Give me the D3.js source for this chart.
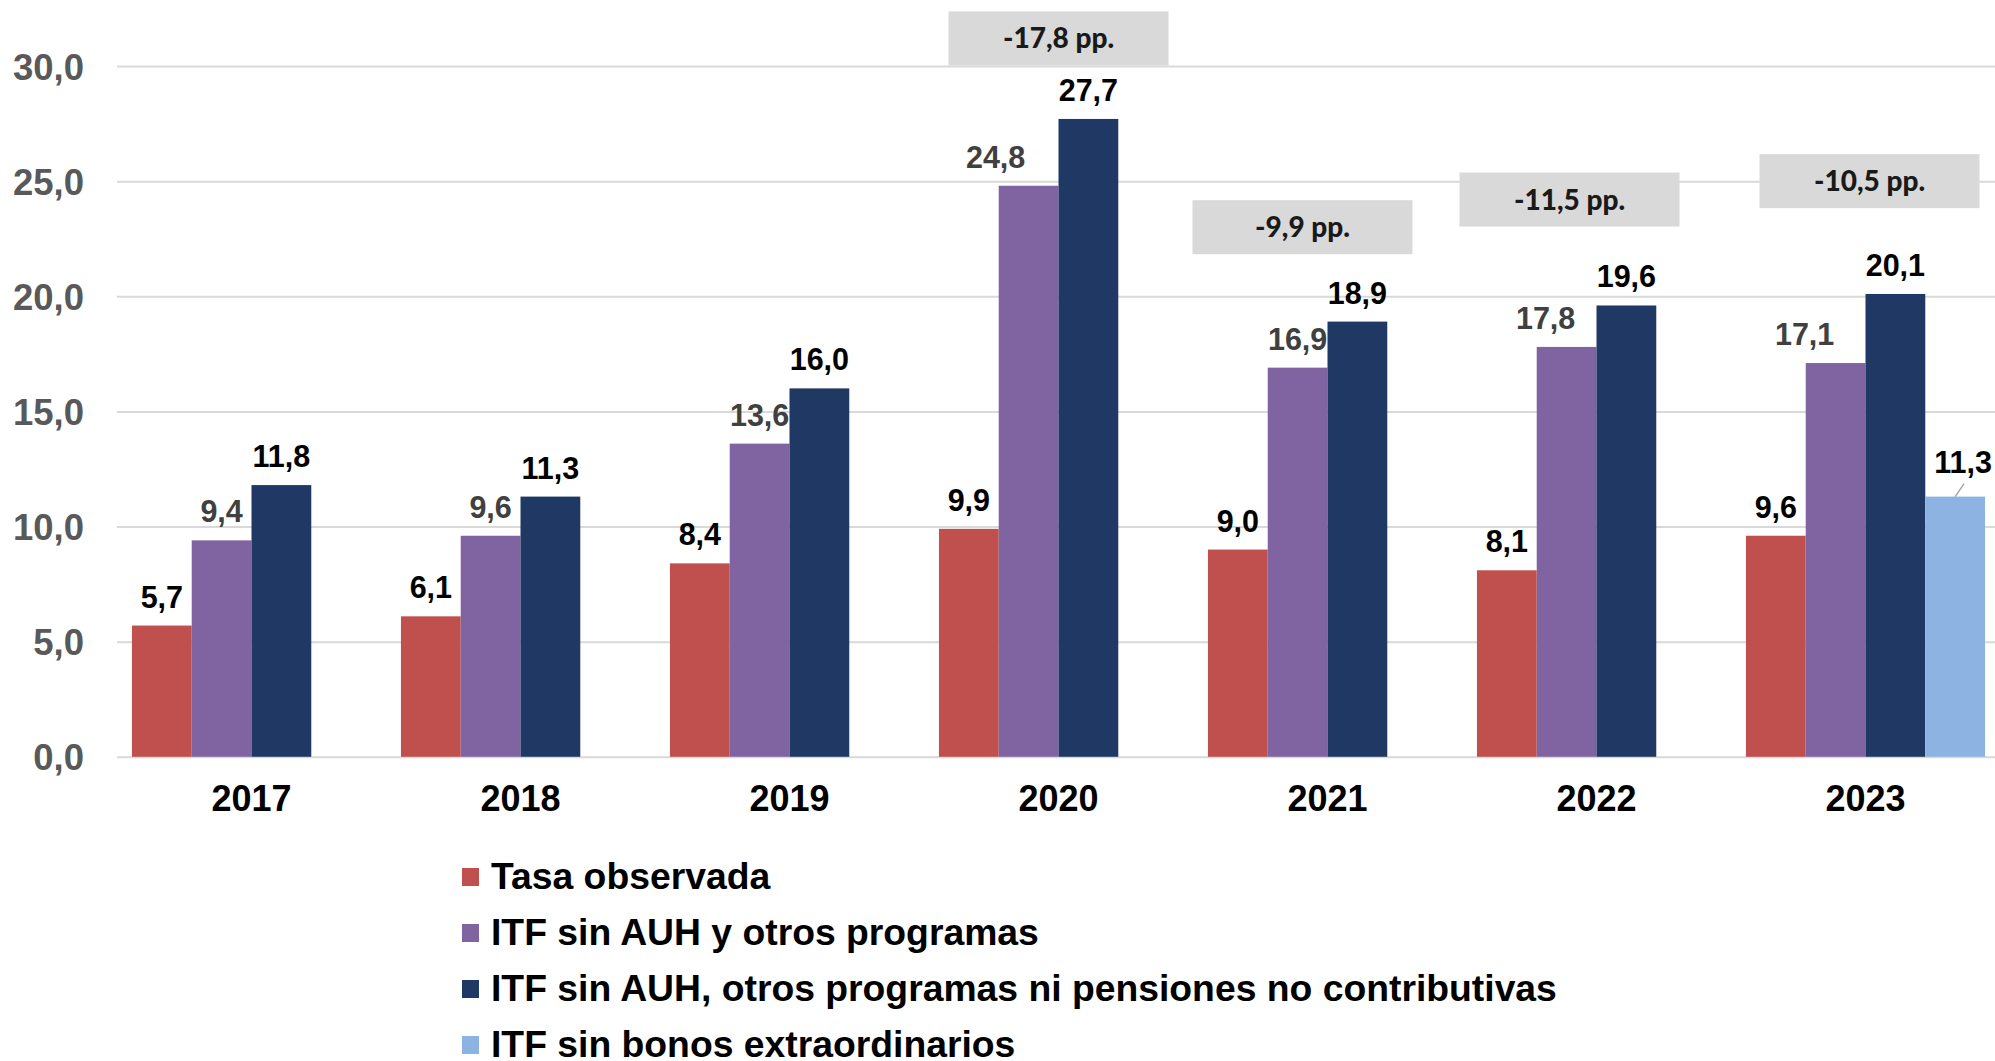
<!DOCTYPE html>
<html>
<head>
<meta charset="utf-8">
<script src="https://cdn.jsdelivr.net/npm/d3@7"></script>
<style>
  body { margin: 0; background: #fff; overflow: hidden; }
  svg { display: block; }
  text { font-family: "Liberation Sans", Arial, sans-serif; font-weight: bold; }
</style>
</head>
<body>
<div id="chart"></div>
<script>

// data
var years = ["2017", "2018", "2019", "2020", "2021", "2022", "2023"];
var seriesNames = [
    "Tasa observada",
    "ITF sin AUH y otros programas",
    "ITF sin AUH, otros programas ni pensiones no contributivas",
    "ITF sin bonos extraordinarios"
];
var tasaObservada = [5.7, 6.1, 8.4, 9.9, 9.0, 8.1, 9.6];
var sinAUH = [9.4, 9.6, 13.6, 24.8, 16.9, 17.8, 17.1];
var sinAUHniPensiones = [11.8, 11.3, 16.0, 27.7, 18.9, 19.6, 20.1];
var sinBonos = [null, null, null, null, null, null, 11.3];
var yTicks = [0, 5, 10, 15, 20, 25, 30];

// gap boxes (pp.)
var gapYears = ["2020", "2021", "2022", "2023"];
var gapValues = [-17.8, -9.9, -11.5, -10.5];

var colors = ["#c0504d", "#8064a2", "#203864", "#8db3e2"];
var labelColors = ["#000000", "#404040", "#000000", "#000000"];

// hand placement of a few labels / boxes, like in the original
var labelDx = [
    [0, 0, 0, 0, 0, 0, 0],
    [0, 0, 0, -33, 0, -21, -31],
    [0, 0, 0, 0, 0, 0, 0],
    [0, 0, 0, 0, 0, 0, 8]
];
var gapBoxDx = [0, -25, -27, 4];
var gapBoxLevel = [31.2, 23.0, 24.2, 25.0];

var width = 1995;
var height = 1061;
var margin = { top: 66, left: 117, right: -5, bottom: 305 };

var svg = d3.select("#chart")
    .append("svg")
    .attr("width", width)
    .attr("height", height);

var locale = d3.formatLocale({ decimal: ",", thousands: ".", grouping: [3], currency: ["$", ""], minus: "-" });
var fmt = locale.format(".1f");

var allSeries = [tasaObservada, sinAUH, sinAUHniPensiones, sinBonos];

var xScale = d3.scaleBand()
    .domain(years)
    .range([margin.left, width - margin.right])
    .paddingInner(1 / 9)
    .paddingOuter(1 / 18);

var xInner = d3.scaleBand()
    .domain(d3.range(seriesNames.length))
    .range([0, xScale.bandwidth()]);

var yScale = d3.scaleLinear()
    .domain([0, 30])
    .range([height - margin.bottom + 0.8, margin.top]);

// y axis + gridlines
var yAxis = svg.append("g")
    .attr("transform", `translate(${margin.left},0)`)
    .call(d3.axisLeft(yScale)
        .tickValues(yTicks)
        .tickFormat(fmt)
        .tickSizeInner(-(width - margin.right - margin.left))
        .tickSizeOuter(0)
        .tickPadding(33));

yAxis.select(".domain").remove();
yAxis.selectAll(".tick line")
    .attr("stroke", "#d9d9d9")
    .attr("stroke-width", 2);
yAxis.selectAll(".tick text")
    .attr("fill", "#595959")
    .style("font-size", "36.5px")
    .attr("dy", "0.36em");

// x axis
var xAxis = svg.append("g")
    .attr("transform", `translate(0,${yScale(0)})`)
    .call(d3.axisBottom(xScale).tickSize(0).tickPadding(29));

xAxis.select(".domain").remove();
xAxis.selectAll(".tick text")
    .attr("fill", "#000")
    .style("font-size", "36px");

// bars
var rows = [];
allSeries.forEach(function(values, s) {
    values.forEach(function(v, i) {
        if (v !== null) rows.push({ s: s, i: i, year: years[i], value: v });
    });
});

svg.append("g").selectAll("rect")
    .data(rows)
    .enter()
    .append("rect")
    .attr("x", function(d) { return xScale(d.year) + xInner(d.s); })
    .attr("y", function(d) { return yScale(d.value); })
    .attr("width", xInner.bandwidth())
    .attr("height", function(d) { return yScale(0) - yScale(d.value); })
    .attr("fill", function(d) { return colors[d.s]; });

// leader line for the extra series
svg.append("g").selectAll("line")
    .data(rows.filter(function(d) { return d.s === 3; }))
    .enter()
    .append("line")
    .attr("x1", function(d) { return xScale(d.year) + xInner(d.s) + xInner.bandwidth() / 2; })
    .attr("y1", function(d) { return yScale(d.value); })
    .attr("x2", function(d) { return xScale(d.year) + xInner(d.s) + xInner.bandwidth() / 2 + 9; })
    .attr("y2", function(d) { return yScale(d.value) - 13; })
    .attr("stroke", "#a6a6a6")
    .attr("stroke-width", 1.5);

// value labels
svg.append("g").selectAll("text")
    .data(rows)
    .enter()
    .append("text")
    .attr("x", function(d) {
        return xScale(d.year) + xInner(d.s) + xInner.bandwidth() / 2 + labelDx[d.s][d.i];
    })
    .attr("y", function(d) { return yScale(d.value) - (d.s === 3 ? 24 : 18); })
    .attr("text-anchor", "middle")
    .attr("fill", function(d) { return labelColors[d.s]; })
    .style("font-size", "30.5px")
    .text(function(d) { return fmt(d.value); });

// gap boxes
var boxW = 220, boxH = 54;
var gaps = svg.append("g").selectAll("g")
    .data(gapYears)
    .enter()
    .append("g")
    .attr("transform", function(d, i) {
        var cx = xScale(d) + xScale.bandwidth() / 2 + gapBoxDx[i];
        var cy = yScale(gapBoxLevel[i]);
        return `translate(${cx},${cy})`;
    });

gaps.append("rect")
    .attr("x", -boxW / 2)
    .attr("y", -boxH / 2)
    .attr("width", boxW)
    .attr("height", boxH)
    .attr("fill", "#d9d9d9");

gaps.append("text")
    .attr("text-anchor", "middle")
    .attr("dy", "0.36em")
    .attr("fill", "#1a1a1a")
    .style("font-family", "Lato, 'Open Sans', sans-serif")
    .style("font-weight", "900")
    .style("font-size", "28px")
    .text(function(d, i) { return fmt(gapValues[i]) + " pp."; });

// legend
var legend = svg.append("g").selectAll("g")
    .data(seriesNames)
    .enter()
    .append("g")
    .attr("transform", function(d, i) { return `translate(462,${889 + i * 56})`; });

legend.append("rect")
    .attr("x", 0)
    .attr("y", -21)
    .attr("width", 17)
    .attr("height", 18)
    .attr("fill", function(d, i) { return colors[i]; });

legend.append("text")
    .attr("x", 29)
    .attr("y", 0)
    .attr("fill", "#000")
    .style("font-size", "37.3px")
    .text(function(d) { return d; });

</script>
</body>
</html>
